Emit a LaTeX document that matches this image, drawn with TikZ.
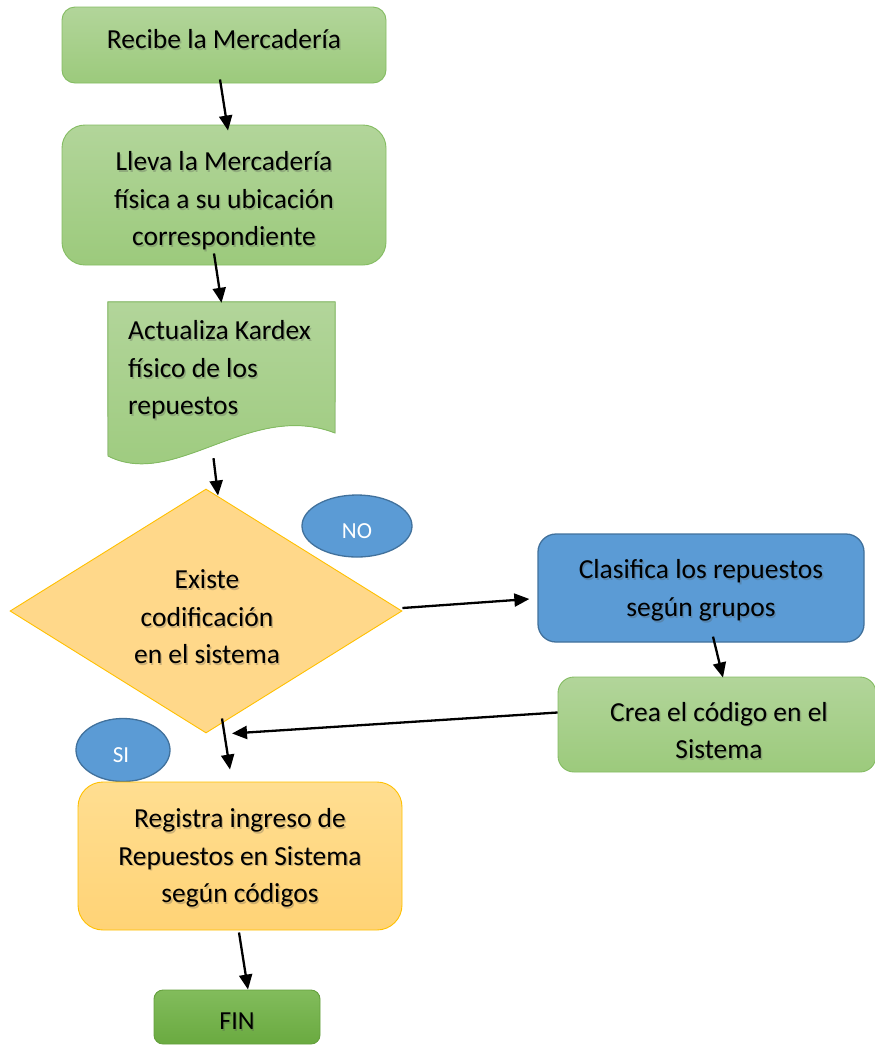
\documentclass[tikz,border=0pt]{standalone}
\usepackage{fontspec}
\setmainfont{Carlito}
\usetikzlibrary{arrows.meta,shapes.geometric,calc}

\definecolor{grntop}{RGB}{178,213,154}
\definecolor{grnbot}{RGB}{156,202,124}
\definecolor{grnline}{RGB}{132,188,98}
\definecolor{bluefill}{RGB}{91,155,213}
\definecolor{blueline}{RGB}{65,113,156}
\definecolor{orgtop}{RGB}{255,222,145}
\definecolor{orgbot}{RGB}{255,211,118}
\definecolor{orgline}{RGB}{255,192,0}
\definecolor{diafill}{RGB}{255,216,138}
\definecolor{fintop}{RGB}{130,188,92}
\definecolor{finbot}{RGB}{106,170,64}
\definecolor{finline}{RGB}{100,160,60}

\newcommand{\bodyfont}{\fontsize{27.5}{37.5}\selectfont}

% text with a soft drop shadow: name, position, extra options, text
\newcommand{\shadowtext}[4]{%
  \node[txt, #3, text=black!70, opacity=0.28, xshift=1.4pt, yshift=-1.7pt] (#1-sh) at #2 {#4};
  \node[txt, #3] (#1) at #2 {#4};}

\begin{document}
\begin{tikzpicture}[x=1pt,y=-1pt,
  txt/.style={align=center, inner sep=0pt, font=\bodyfont},
  proc/.style={rectangle, line width=0.9pt, inner sep=0pt},
  greenbox/.style={proc, draw=grnline, top color=grntop, bottom color=grnbot},
  bluebox/.style={proc, draw=blueline, line width=1.3pt, fill=bluefill},
  orangebox/.style={proc, draw=orgline, top color=orgtop, bottom color=orgbot},
  finbox/.style={proc, draw=finline, top color=fintop, bottom color=finbot},
  answer/.style={ellipse, draw=blueline, line width=1.3pt, fill=bluefill, inner sep=0pt},
  answertext/.style={text=white, font=\fontsize{23}{26}\selectfont, inner sep=0pt},
  flow/.style={-{Triangle[length=15pt,width=13pt]}, line width=2.3pt, black}
]
\useasboundingbox (0,0) rectangle (875,1045);

% process boxes
\node[greenbox, rounded corners=13pt, minimum width=324pt, minimum height=76pt]
  (recibe) at (224,45) {};
\shadowtext{recibe-t}{(224,39)}{}{Recibe la Mercadería}
\node[greenbox, rounded corners=23pt, minimum width=324pt, minimum height=140pt]
  (lleva) at (224,195) {};
\shadowtext{lleva-t}{(224,201)}{}{Lleva la Mercadería\\física a su ubicación\\correspondiente}

% document shape with wavy bottom
\node[rectangle, inner sep=0pt, minimum width=227pt, minimum height=163pt]
  (doc) at (221.5,383.5) {};
\fill[top color=grntop, bottom color=grnbot]
  (doc.north west) -- (doc.north east) -- (335,433)
  .. controls (250,400) and (175,490) .. (108,456) -- cycle;
\draw[grnline, line width=0.9pt]
  (doc.north west) -- (doc.north east) -- (335,433)
  .. controls (250,400) and (175,490) .. (108,456) -- cycle;
\shadowtext{doc-t}{(128,370)}{anchor=west, align=left}{Actualiza Kardex\\físico de los\\repuestos}

% decision
\node[diamond, draw=orgline, line width=0.9pt, fill=diafill, inner sep=0pt,
  minimum width=392pt, minimum height=244pt] (dec) at (206,611) {};
\shadowtext{dec-t}{(207,617)}{}{Existe\\codificación\\en el sistema}

% answer labels
\node[answer, minimum width=110pt, minimum height=62pt] (no) at (357,526) {};
\node[answertext] (no-t) at (357,531) {NO};
\node[answer, minimum width=94pt, minimum height=63pt] (si) at (123,750) {};
\node[answertext] (si-t) at (121,755) {SI};

% "NO" branch
\node[bluebox, rounded corners=18pt, minimum width=326pt, minimum height=108pt]
  (clasifica) at (701,588) {};
\shadowtext{clasifica-t}{(701,590.5)}{}{Clasifica los repuestos\\según grupos}
\node[greenbox, rounded corners=16pt, minimum width=318pt, minimum height=95pt]
  (crea) at (717,724.5) {};
\shadowtext{crea-t}{(719,730.5)}{}{Crea el código en el\\Sistema}

% register and end
\node[orangebox, rounded corners=25pt, minimum width=324pt, minimum height=148pt]
  (registra) at (240,856) {};
\shadowtext{registra-t}{(240,858)}{}{Registra ingreso de\\Repuestos en Sistema\\según códigos}
\node[finbox, rounded corners=9pt, minimum width=166pt, minimum height=54pt]
  (fin) at (237,1017) {};
\shadowtext{fin-t}{(237,1021)}{font=\fontsize{26}{30}\selectfont}{FIN}

% connectors
\draw[flow] ([xshift=-4pt,yshift=4pt]recibe.south) -- ([xshift=4pt,yshift=-6pt]lleva.north);
\draw[flow] ([xshift=-10pt,yshift=12pt]lleva.south) -- ([yshift=-1pt]doc.north);
\draw[flow] ([xshift=-8pt,yshift=7pt]doc.south) -- ([xshift=12pt,yshift=-7pt]dec.north);
\draw[flow] ([yshift=3pt]dec.east) -- ([xshift=-8pt,yshift=-11pt]clasifica.west);
\draw[flow] ([xshift=12pt,yshift=6pt]clasifica.south) -- ([xshift=6pt,yshift=-1pt]crea.north);
\draw[flow] ([yshift=12pt]crea.west) -- ([xshift=26pt]dec.south);
\draw[flow] ([xshift=16pt,yshift=15pt]dec.south) -- ([xshift=-10pt,yshift=12pt]registra.north);
\draw[flow] ([xshift=-1pt,yshift=-2pt]registra.south) -- ([xshift=11pt]fin.north);
\end{tikzpicture}
\end{document}
